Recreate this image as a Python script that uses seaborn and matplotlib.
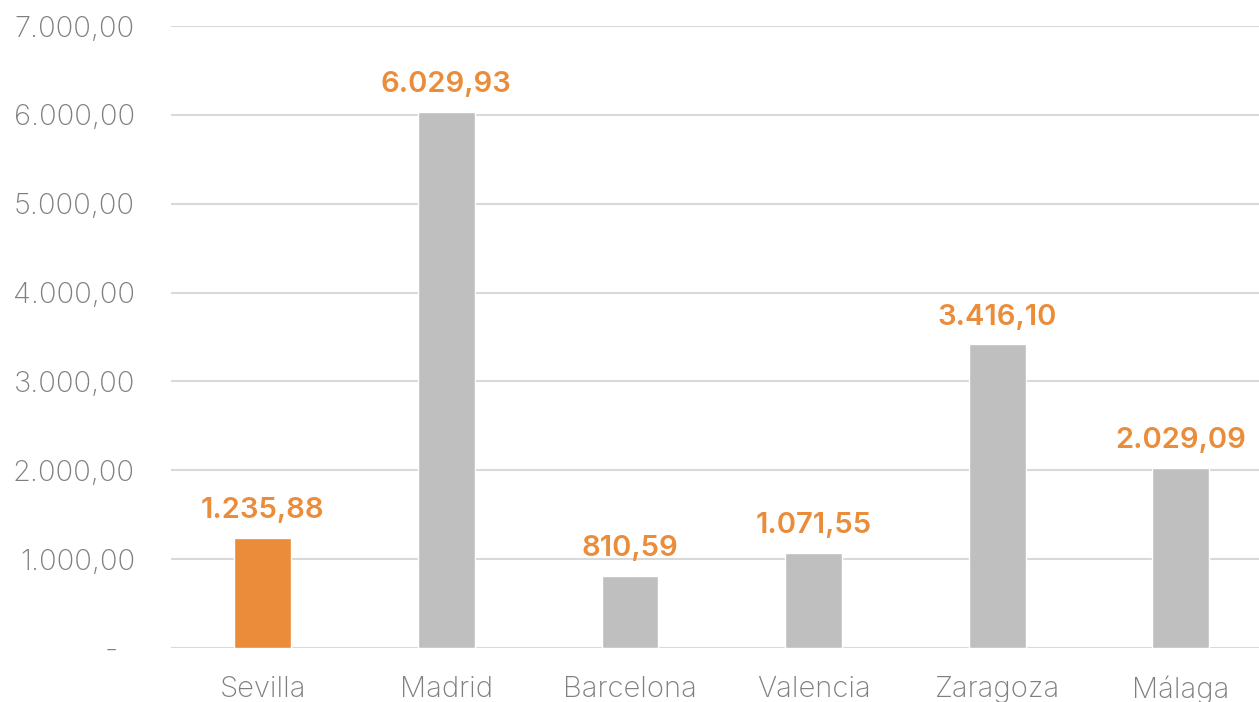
import matplotlib
matplotlib.use("Agg")
import matplotlib.pyplot as plt
import seaborn as sns
import pandas as pd
from matplotlib.ticker import FuncFormatter

cities = ["Sevilla", "Madrid", "Barcelona", "Valencia", "Zaragoza", "Málaga"]
values = [1235.88, 6029.93, 810.59, 1071.55, 3416.10, 2029.09]
highlight = "Sevilla"

orange = "#EA8C3A"
grey = "#BFBFBF"


def es_fmt(v, decimals=2):
    s = f"{v:,.{decimals}f}"
    return s.replace(",", "X").replace(".", ",").replace("X", ".")


df = pd.DataFrame({"city": cities, "value": values})
df["group"] = ["hl" if c == highlight else "other" for c in cities]

sns.set_style("white")
plt.rcParams["font.family"] = ["Inter", "DejaVu Sans"]

fig = plt.figure(figsize=(12.59, 7.02), dpi=100)
ax = fig.add_axes([0.1358, 0.0769, 0.875, 0.886])

sns.barplot(data=df, x="city", y="value", hue="group",
            palette={"hl": orange, "other": grey}, width=0.31,
            dodge=False, legend=False, ax=ax, saturation=1)

for i, v in enumerate(values):
    ax.annotate(es_fmt(v), (i, v), xytext=(0, 10), textcoords="offset points",
                ha="center", va="bottom", color=orange, fontsize=21,
                fontweight="semibold")

ax.set_ylim(0, 7000)
ax.set_xlim(-0.5, len(cities) - 0.5)
ax.set_yticks(range(0, 7001, 1000))
# accounting style: zero shown as a dash, set in from the right
ax.yaxis.set_major_formatter(FuncFormatter(lambda v, p: "-  " if v == 0 else es_fmt(v)))
ax.yaxis.grid(True, color="#D9D9D9", linewidth=1.5)
ax.set_axisbelow(True)
for s in ax.spines.values():
    s.set_visible(False)
ax.tick_params(axis="y", length=0, pad=26, labelsize=21, labelcolor="#7F7F7F")
ax.tick_params(axis="x", length=0, pad=20, labelsize=21, labelcolor="#7F7F7F")
for t in ax.get_xticklabels() + ax.get_yticklabels():
    t.set_fontweight("light")
ax.set_xlabel("")
ax.set_ylabel("")

fig.savefig("out.png", dpi=100)
